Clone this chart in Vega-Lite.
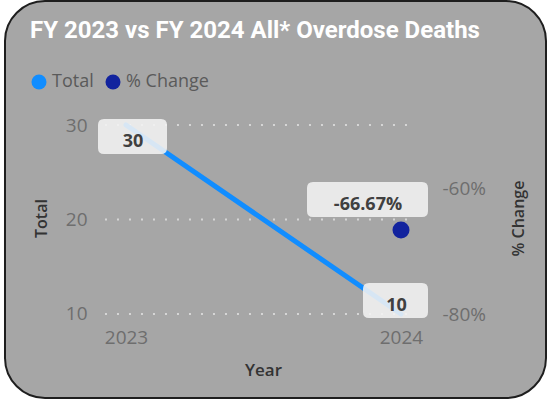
{
  "$schema": "https://vega.github.io/schema/vega-lite/v6.json",
  "width": 541,
  "height": 397,
  "autosize": {"type": "none"},
  "padding": {"left": 5, "top": 1, "right": 5, "bottom": 2},
  "background": "white",
  "title": {
    "text": "FY 2023 vs FY 2024 All* Overdose Deaths",
    "anchor": "start",
    "frame": "group",
    "orient": "top",
    "offset": -61,
    "dx": 25,
    "color": "white",
    "font": "Roboto",
    "fontSize": 24,
    "fontWeight": "bold",
    "baseline": "alphabetic"
  },
  "datasets": {
    "main": [
      {"Year": 2023, "Total": 30, "Change": null},
      {"Year": 2024, "Total": 10, "Change": -0.6667}
    ],
    "grid": [{"Total": 10}, {"Total": 20}, {"Total": 30}]
  },
  "layer": [
    {
      "layer": [
        {
          "data": {"name": "grid"},
          "mark": {"type": "rule", "color": "#d6d6d6", "strokeWidth": 2, "strokeDash": [2, 10]},
          "encoding": {
            "y": {"field": "Total", "type": "quantitative", "scale": {"domain": [1.111, 43.122], "nice": false, "zero": false}},
            "x": {"datum": 2022.9236, "type": "quantitative"},
            "x2": {"datum": 2024.0509}
          }
        },
        {
          "data": {"name": "main"},
          "mark": {"type": "line", "color": "#118DFF", "strokeWidth": 5, "strokeCap": "round"},
          "encoding": {
            "x": {
              "field": "Year",
              "type": "quantitative",
              "scale": {"domain": [2022.56, 2024.5273], "nice": false, "zero": false},
              "axis": {
                "title": "Year",
                "values": [2023, 2024],
                "format": "d",
                "grid": false,
                "domain": false,
                "ticks": false,
                "tickSize": 0,
                "labelPadding": 0,
                "offset": -55,
                "labelBaseline": "alphabetic",
                "labelFont": "Open Sans",
                "labelFontSize": 19,
                "labelColor": "#6e6e6e",
                "labelFlush": false,
                "labelOverlap": false,
                "titleFont": "Open Sans",
                "titleFontSize": 17,
                "titleFontWeight": 600,
                "titleColor": "#333333",
                "titleX": 258,
                "titleY": 32,
                "titleAlign": "center",
                "titleBaseline": "alphabetic"
              }
            },
            "y": {
              "field": "Total",
              "type": "quantitative",
              "axis": {
                "title": "Total",
                "orient": "left",
                "values": [10, 20, 30],
                "grid": false,
                "domain": false,
                "ticks": false,
                "tickSize": 0,
                "labelPadding": 0,
                "offset": -82,
                "labelFont": "Open Sans",
                "labelFontSize": 19,
                "labelColor": "#6e6e6e",
                "labelFlush": false,
                "titleFont": "Open Sans",
                "titleFontSize": 16,
                "titleFontWeight": 600,
                "titleColor": "#333333",
                "titleX": -46,
                "titleY": 217,
                "titleAngle": 270,
                "titleAlign": "center",
                "titleBaseline": "middle"
              }
            }
          }
        },
        {
          "data": {"name": "main"},
          "transform": [{"filter": "datum.Year == 2023"}],
          "mark": {"type": "point", "shape": "M-22,-6 L35,-6 Q41,-6 41,0 L41,23 Q41,29 35,29 L-22,29 Q-28,29 -28,23 L-28,0 Q-28,-6 -22,-6 Z", "size": 4, "filled": true, "color": "#f2f2f2", "opacity": 0.88, "strokeWidth": 0},
          "encoding": {
            "x": {"field": "Year", "type": "quantitative"},
            "y": {"field": "Total", "type": "quantitative"}
          }
        },
        {
          "data": {"name": "main"},
          "transform": [{"filter": "datum.Year == 2023"}],
          "mark": {"type": "text", "font": "Open Sans", "fontSize": 18, "fontWeight": "bold", "color": "#404040", "align": "center", "baseline": "alphabetic", "dx": 7, "dy": 22},
          "encoding": {
            "x": {"field": "Year", "type": "quantitative"},
            "y": {"field": "Total", "type": "quantitative"},
            "text": {"field": "Total"}
          }
        },
        {
          "data": {"name": "main"},
          "transform": [{"filter": "datum.Year == 2024"}],
          "mark": {"type": "point", "shape": "M-32,-31 L21,-31 Q27,-31 27,-25 L27,-2 Q27,4 21,4 L-32,4 Q-38,4 -38,-2 L-38,-25 Q-38,-31 -32,-31 Z", "size": 4, "filled": true, "color": "#f2f2f2", "opacity": 0.88, "strokeWidth": 0},
          "encoding": {
            "x": {"field": "Year", "type": "quantitative"},
            "y": {"field": "Total", "type": "quantitative"}
          }
        },
        {
          "data": {"name": "main"},
          "transform": [{"filter": "datum.Year == 2024"}],
          "mark": {"type": "text", "font": "Open Sans", "fontSize": 18, "fontWeight": "bold", "color": "#404040", "align": "center", "baseline": "alphabetic", "dx": -4.5, "dy": -3},
          "encoding": {
            "x": {"field": "Year", "type": "quantitative"},
            "y": {"field": "Total", "type": "quantitative"},
            "text": {"field": "Total"}
          }
        }
      ]
    },
    {
      "data": {"name": "main"},
      "transform": [{"filter": "datum.Change != null"}],
      "layer": [
        {
          "mark": {"type": "point", "shape": "circle", "size": 289, "filled": true, "opacity": 1, "strokeWidth": 0},
          "encoding": {
            "x": {"field": "Year", "type": "quantitative"},
            "y": {
              "field": "Change",
              "type": "quantitative",
              "scale": {"domain": [-0.93333, -0.30317], "nice": false, "zero": false},
              "axis": {
                "title": "% Change",
                "orient": "right",
                "values": [-0.8, -0.6],
                "format": ".0%",
                "grid": false,
                "domain": false,
                "ticks": false,
                "tickSize": 0,
                "labelPadding": 0,
                "offset": -104,
                "labelFont": "Open Sans",
                "labelFontSize": 19,
                "labelColor": "#6e6e6e",
                "labelFlush": false,
                "titleFont": "Open Sans",
                "titleFontSize": 16,
                "titleFontWeight": 600,
                "titleColor": "#333333",
                "titleX": 76,
                "titleY": 217,
                "titleAngle": 270,
                "titleAlign": "center",
                "titleBaseline": "middle"
              }
            },
            "fill": {
              "datum": "% Change",
              "type": "nominal",
              "scale": {"domain": ["Total", "% Change"], "range": ["#118DFF", "#12239E"]},
              "legend": {
                "orient": "none",
                "legendX": 25,
                "legendY": 72,
                "direction": "horizontal",
                "title": null,
                "symbolType": "circle",
                "symbolSize": 225,
                "symbolStrokeWidth": 0,
                "symbolOpacity": 1,
                "labelFont": "Open Sans",
                "labelFontSize": 18,
                "labelColor": "#5a5a5a",
                "labelOffset": 4,
                "columnPadding": 10,
                "padding": 0
              }
            }
          }
        },
        {
          "mark": {"type": "point", "shape": "M-88,-48 L21,-48 Q27,-48 27,-42 L27,-19 Q27,-13 21,-13 L-88,-13 Q-94,-13 -94,-19 L-94,-42 Q-94,-48 -88,-48 Z", "size": 4, "filled": true, "color": "#f2f2f2", "opacity": 0.88, "strokeWidth": 0},
          "encoding": {
            "x": {"field": "Year", "type": "quantitative"},
            "y": {"field": "Change", "type": "quantitative"}
          }
        },
        {
          "mark": {"type": "text", "font": "Open Sans", "fontSize": 18, "fontWeight": "bold", "color": "#404040", "align": "center", "baseline": "alphabetic", "dx": -33, "dy": -20},
          "encoding": {
            "x": {"field": "Year", "type": "quantitative"},
            "y": {"field": "Change", "type": "quantitative"},
            "text": {"field": "Change", "format": ".2%"}
          }
        }
      ]
    }
  ],
  "resolve": {"scale": {"y": "independent"}},
  "config": {
    "locale": {"number": {"decimal": ".", "thousands": ",", "grouping": [3], "currency": ["$", ""], "minus": "-"}},
    "view": {"fill": "#a6a6a6", "stroke": "#1e1e1e", "strokeWidth": 2, "cornerRadius": 40},
    "axis": {"labelFont": "Open Sans", "titleFont": "Open Sans"}
  }
}
